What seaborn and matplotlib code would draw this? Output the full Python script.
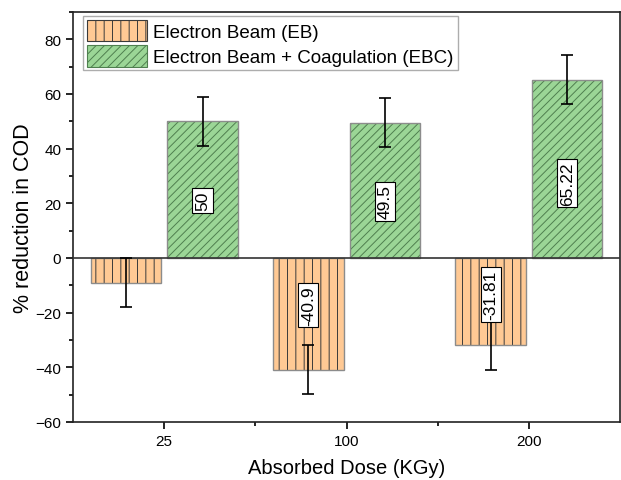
import matplotlib.pyplot as plt
import seaborn as sns
import pandas as pd
import numpy as np
from matplotlib.patches import Patch
from matplotlib.ticker import AutoMinorLocator, MultipleLocator

# values
doses = ['25', '100', '200']
eb_values = [-9.0, -40.9, -31.81]
ebc_values = [50.0, 49.5, 65.22]
eb_err = [9.0, 9.0, 9.0]
ebc_err = [9.0, 9.0, 9.0]
eb_labels = ['', '-40.9', '-31.81']
ebc_labels = ['50', '49.5', '65.22']
series = ['Electron Beam (EB)', 'Electron Beam + Coagulation (EBC)']

df = pd.DataFrame({
    'dose': doses * 2,
    'value': eb_values + ebc_values,
    'group': [series[0]] * 3 + [series[1]] * 3,
})

sns.set_style('ticks')
plt.rcParams['font.family'] = ['Liberation Sans', 'DejaVu Sans']
plt.rcParams['hatch.linewidth'] = 0.7
plt.rcParams['text.color'] = 'black'
plt.rcParams['axes.labelcolor'] = 'black'
plt.rcParams['xtick.color'] = 'black'
plt.rcParams['ytick.color'] = 'black'

fig = plt.figure(figsize=(6.21, 4.81), dpi=100)
ax = fig.add_axes([0.1176, 0.1206, 0.8810, 0.8524])

colors = ['#FFC994', '#9BD696']
hatch_cols = ['#3a3a3a', '#4f7f4f']
hatches = ['||', '////']

sns.barplot(data=df, x='dose', y='value', hue='group', order=doses,
            hue_order=series, palette=colors, width=0.84, gap=0.08,
            saturation=1, legend=False, ax=ax)

errs = [eb_err, ebc_err]
labels = [eb_labels, ebc_labels]
vals = [eb_values, ebc_values]
bar_groups = list(ax.containers)
for i, cont in enumerate(bar_groups):
    for j, bar in enumerate(cont):
        bar.set_hatch(hatches[i])
        bar.set_edgecolor(hatch_cols[i])
        bar.set_linewidth(0)
        xc = bar.get_x() + bar.get_width() / 2
        # gray outline on top of hatch
        ax.add_patch(plt.Rectangle((bar.get_x(), bar.get_y()), bar.get_width(),
                                   bar.get_height(), fill=False,
                                   edgecolor='#8c8c8c', linewidth=1.0, zorder=3))
        ax.errorbar(xc, vals[i][j], yerr=errs[i][j], color='black',
                    capsize=4, elinewidth=1.2, capthick=1.2, zorder=4)
        if labels[i][j]:
            ax.text(xc, vals[i][j] * 0.42, labels[i][j], rotation=90,
                    ha='center', va='center', fontsize=12.5, zorder=5,
                    bbox=dict(boxstyle='square,pad=0.15', fc='white',
                              ec='black', lw=0.8))

ax.axhline(0, color='#333333', linewidth=1.2, zorder=3)

ax.set_xlim(-0.5, 2.5)
ax.set_ylim(-60, 90)
ax.yaxis.set_major_locator(MultipleLocator(20))
ax.yaxis.set_minor_locator(AutoMinorLocator(2))
ax.set_xticks([0.5, 1.5], minor=True)
ax.tick_params(axis='both', which='major', direction='out', length=5,
               width=1.2, labelsize=11)
ax.tick_params(axis='both', which='minor', direction='out', length=3, width=1.2)
for s in ax.spines.values():
    s.set_linewidth(1.2)
    s.set_color('#222222')

ax.set_xlabel('Absorbed Dose (KGy)', fontsize=14.5, labelpad=7)
ax.set_ylabel('% reduction in COD', fontsize=15.5, labelpad=1)

handles = [Patch(facecolor=colors[k], edgecolor=hatch_cols[k], hatch=hatches[k],
                 linewidth=0.8) for k in range(2)]
ax.legend(handles, series, loc='upper left', bbox_to_anchor=(0.015, 0.995),
          fontsize=13.5, frameon=True, fancybox=False, edgecolor='#999999',
          handlelength=3.2, handleheight=1.4, handletextpad=0.35,
          labelspacing=0.2, borderpad=0.2, borderaxespad=0.1)

fig.savefig('out.png', dpi=100)
